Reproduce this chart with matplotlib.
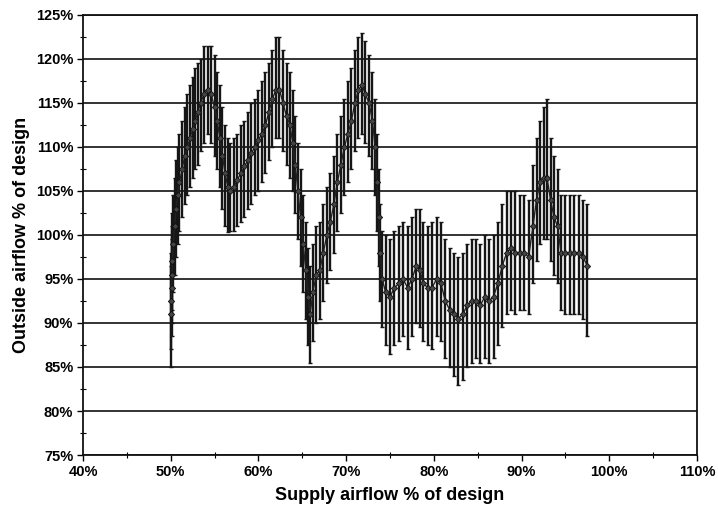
import numpy as np
import matplotlib
matplotlib.use("Agg")
import matplotlib.pyplot as plt
from matplotlib.ticker import MultipleLocator, FuncFormatter

# supply airflow (% of design), outside airflow mean and bar ends (% of design)
supply = [50.0, 50.05, 50.1, 50.15, 50.2, 50.3, 50.45, 50.6, 50.8, 51.0, 51.3, 51.6, 51.9,
          52.2, 52.5, 52.8, 53.1, 53.4, 53.8, 54.2, 54.6, 55.0, 55.3, 55.6, 55.9, 56.2,
          56.5, 56.8,
          57.2, 57.6, 58.0, 58.4, 58.8, 59.2, 59.6, 60.0, 60.4, 60.8, 61.2, 61.6, 62.0,
          62.4, 62.8, 63.2, 63.6, 63.9, 64.2, 64.5, 64.8, 65.1, 65.4, 65.7, 65.9,
          66.2, 66.6, 67.0, 67.4, 67.8, 68.2, 68.6, 69.0, 69.4, 69.8, 70.2, 70.6, 71.0,
          71.4, 71.8, 72.2, 72.6, 73.0, 73.3, 73.5, 73.7, 73.9, 74.1,
          74.5, 75.0, 75.5, 76.0, 76.5, 77.0, 77.5, 78.0, 78.4, 78.8, 79.3, 79.8, 80.3,
          80.8, 81.3, 81.8, 82.3, 82.8, 83.3, 83.8, 84.3, 84.8, 85.3, 85.8, 86.3, 86.8,
          87.3, 87.8, 88.3, 88.8, 89.3, 89.8, 90.3, 90.8, 91.3, 91.7, 92.1, 92.5, 92.9,
          93.3, 93.7, 94.1, 94.5, 95.0, 95.5, 96.0, 96.5, 97.0, 97.5]
outside = [91.0, 92.5, 94.0, 95.5, 97.0, 99.0, 101.0, 103.0, 104.5, 106.0, 107.5, 109.0, 110.0,
           111.0, 112.0, 113.0, 114.0, 115.0, 116.0, 116.5, 116.0, 114.5, 113.0, 111.0, 109.0, 107.0,
           105.5, 105.0,
           105.5, 106.3, 107.0, 107.8, 108.5, 109.3, 110.0, 110.8, 111.5, 112.5, 114.0, 115.5, 116.5,
           116.5, 115.0, 113.5, 112.5, 110.5, 108.0, 105.0, 102.0, 99.0, 96.0, 93.0, 91.0,
           93.5, 95.5, 96.0, 98.0, 100.0, 101.5, 103.5, 106.0, 108.0, 110.0, 111.5, 113.0, 115.0,
           116.5, 117.0, 116.0, 115.0, 113.0, 110.0, 106.0, 102.0, 98.0, 95.0,
           93.5, 93.0, 94.0, 94.5, 95.0, 94.0, 95.0, 96.5, 96.0, 94.5, 94.0, 94.0, 95.0,
           94.5, 92.5, 91.5, 91.0, 90.5, 91.0, 92.0, 92.5, 92.5, 92.0, 93.0, 92.5, 93.0,
           94.5, 96.5, 98.0, 98.5, 98.0, 98.0, 98.0, 97.5, 101.0, 104.0, 106.0, 106.5, 106.5,
           104.0, 102.0, 101.0, 98.0, 98.0, 98.0, 98.0, 98.0, 97.5, 96.5]
low = [85.0, 87.0, 88.5, 90.0, 91.5, 93.5, 95.5, 97.5, 99.0, 100.5, 102.0, 103.5, 104.5,
       105.5, 106.5, 107.5, 108.0, 109.5, 110.5, 111.5, 110.5, 109.0, 107.5, 105.5, 103.0, 101.0,
       100.3, 100.5,
       100.5, 101.0, 101.5, 102.0, 103.0, 103.5, 104.5, 105.0, 106.0, 107.0, 108.5, 110.0, 111.0,
       111.0, 109.5, 108.0, 106.5, 105.0, 102.5, 99.5, 96.5, 93.5, 90.5, 87.5, 85.5,
       88.0, 90.0, 90.5, 92.5, 94.5, 96.0, 98.0, 100.5, 102.5, 104.5, 106.0, 107.5, 109.5,
       111.0, 111.5, 110.5, 109.0, 107.5, 104.5, 100.5, 96.5, 92.5, 89.5,
       87.5, 86.5, 87.5, 88.0, 88.5, 87.0, 88.5, 90.0, 89.5, 88.0, 87.5, 87.0, 88.5,
       88.0, 86.0, 85.0, 84.0, 83.0, 83.5, 85.0, 85.5, 86.0, 85.5, 86.0, 85.5, 86.0,
       87.5, 89.5, 91.0, 91.5, 91.0, 91.5, 91.5, 91.0, 94.5, 97.0, 99.0, 99.5, 99.5,
       97.0, 95.5, 94.5, 91.5, 91.0, 91.0, 91.0, 91.0, 90.5, 88.5]
high = [96.5, 98.0, 99.5, 101.0, 102.5, 104.5, 106.5, 108.5, 110.0, 111.5, 113.0, 114.5, 116.0,
        117.0, 118.0, 119.0, 119.5, 120.0, 121.5, 121.5, 121.5, 120.5, 118.5, 117.0, 114.5, 112.5,
        111.0, 110.5,
        111.0, 111.5, 112.5, 113.0, 114.0, 115.0, 115.5, 116.5, 117.5, 118.5, 119.5, 121.0, 122.5,
        122.5, 121.0, 119.5, 118.5, 116.5, 113.5, 110.5, 107.5, 104.5, 101.5, 98.5, 96.5,
        99.0, 101.0, 101.5, 103.5, 105.5, 107.0, 109.0, 111.5, 113.5, 115.5, 117.5, 119.0, 121.0,
        122.5, 123.0, 122.0, 120.5, 118.5, 115.5, 111.5, 107.5, 103.5, 100.5,
        100.0, 99.5, 100.5, 101.0, 101.5, 101.0, 102.0, 103.0, 103.0, 101.5, 101.0, 101.5, 102.0,
        101.5, 99.5, 98.5, 98.0, 97.5, 98.0, 99.0, 99.5, 99.5, 99.0, 100.0, 99.5, 100.0,
        101.5, 103.5, 105.0, 105.0, 105.0, 104.5, 104.5, 104.0, 108.0, 111.0, 113.0, 114.5, 115.5,
        111.0, 109.0, 107.5, 104.5, 104.5, 104.5, 104.5, 104.5, 104.0, 103.5]

plt.rcParams['font.family'] = ['Liberation Sans', 'DejaVu Sans']

x = np.array(supply)
y = np.array(outside)
yerr = np.vstack([y - np.array(low), np.array(high) - y])

fig = plt.figure(figsize=(7.18, 5.15), dpi=100)
ax = fig.add_axes([0.1156, 0.1165, 0.8552, 0.8544])

ax.errorbar(x, y, yerr=yerr, fmt='none', ecolor='#161616', elinewidth=1.7,
            capsize=1.5, capthick=1.0, zorder=3)
ax.plot(x, y, color='#222222', lw=1.0, marker='D', ms=3.2, mfc='#444444', mec='#111111',
        mew=0.6, zorder=4)

ax.set_xlim(40, 110)
ax.set_ylim(75, 125)
ax.xaxis.set_major_locator(MultipleLocator(10))
ax.xaxis.set_minor_locator(MultipleLocator(5))
ax.yaxis.set_major_locator(MultipleLocator(5))
ax.yaxis.set_minor_locator(MultipleLocator(2.5))
pct = FuncFormatter(lambda v, p: "%d%%" % round(v))
ax.xaxis.set_major_formatter(pct)
ax.yaxis.set_major_formatter(pct)

ax.yaxis.grid(True, which='major', color='#111111', lw=1.2)
ax.set_axisbelow(True)
for s in ax.spines.values():
    s.set_color('#111111')
    s.set_linewidth(1.3)

ax.tick_params(which='major', direction='out', length=4, width=1, labelsize=10.5, pad=3)
ax.tick_params(which='minor', direction='inout', length=4, width=0.8)
for lab in ax.get_xticklabels() + ax.get_yticklabels():
    lab.set_fontweight('bold')

ax.set_xlabel("Supply airflow % of design", fontsize=13, fontweight='bold', labelpad=6)
ax.set_ylabel("Outside airflow % of design", fontsize=13, fontweight='bold', labelpad=4)

fig.savefig("out.png", dpi=100)
plt.close('all')
